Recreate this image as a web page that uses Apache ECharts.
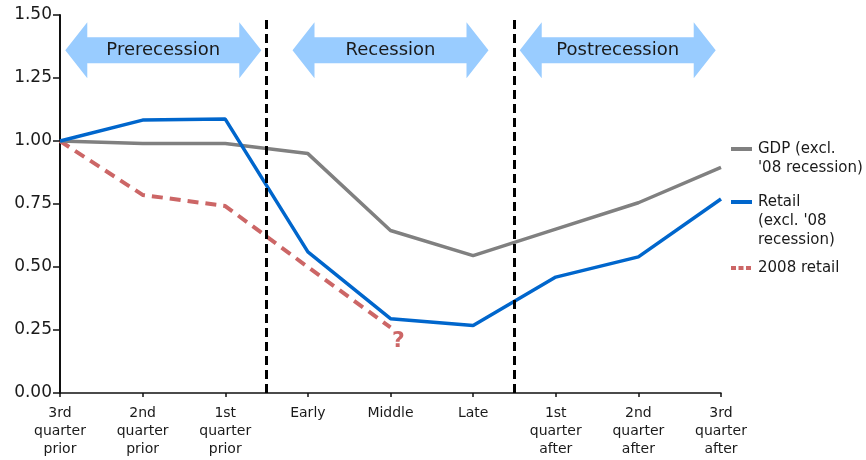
<!DOCTYPE html>
<html>
<head>
<meta charset="utf-8">
<script src="https://cdn.jsdelivr.net/npm/echarts@6/dist/echarts.min.js"></script>
<style>
  html, body { margin: 0; padding: 0; background: #fff; }
  #chart { width: 866px; height: 460px; }
</style>
</head>
<body>
<div id="chart"></div>
<script>
// category labels along the bottom
const xLabels = [
  '3rd\nquarter\nprior', '2nd\nquarter\nprior', '1st\nquarter\nprior',
  'Early', 'Middle', 'Late',
  '1st\nquarter\nafter', '2nd\nquarter\nafter', '3rd\nquarter\nafter'
]
const gdpData = [1.00, 0.99, 0.99, 0.95, 0.645, 0.545, 0.65, 0.755, 0.895]
const retailData = [1.00, 1.083, 1.087, 0.56, 0.295, 0.268, 0.46, 0.54, 0.77]
const retail2008Data = [1.00, 0.786, 0.742, 0.50, 0.26]
const yTicks = [0, 0.25, 0.5, 0.75, 1.0, 1.25, 1.5]
// phase boundaries (category index)
const phaseNames = ['Prerecession', 'Recession', 'Postrecession']
const phaseBounds = [0, 2.5, 5.5, 8]

const font = 'DejaVu Sans'
const textColor = '#1a1a1a'

const toPairs = arr => arr.map((v, i) => [i, v])

const chart = echarts.init(document.getElementById('chart'))
const option = {
  animation: false,
  textStyle: { fontFamily: font },
  grid: { left: 60, right: 145, top: 15, bottom: 67 },
  xAxis: {
    type: 'value',
    min: 0,
    max: xLabels.length - 1,
    interval: 1,
    splitLine: { show: false },
    axisLine: { show: true, onZero: false, lineStyle: { color: '#111', width: 1.5 } },
    axisTick: { show: true, length: 4, lineStyle: { color: '#111', width: 1.5 } },
    axisLabel: {
      margin: 11,
      fontSize: 14,
      lineHeight: 18,
      color: textColor,
      fontFamily: font,
      formatter: v => xLabels[v] || ''
    }
  },
  yAxis: {
    type: 'value',
    min: yTicks[0],
    max: yTicks[yTicks.length - 1],
    interval: 0.25,
    splitLine: { show: false },
    axisLine: { show: true, lineStyle: { color: '#111', width: 2 } },
    axisTick: { show: true, length: 7, lineStyle: { color: '#111', width: 1.5 } },
    axisLabel: {
      margin: 8,
      fontSize: 17,
      color: textColor,
      fontFamily: font,
      formatter: v => v.toFixed(2)
    }
  },
  series: [
    {
      name: 'GDP',
      type: 'line',
      showSymbol: false,
      lineStyle: { color: '#808080', width: 3.5 },
      data: toPairs(gdpData),
      z: 3
    },
    {
      name: 'Retail',
      type: 'line',
      showSymbol: false,
      lineStyle: { color: '#0066cc', width: 3.5 },
      data: toPairs(retailData),
      z: 4,
      markLine: {
        silent: true,
        symbol: 'none',
        label: { show: false },
        lineStyle: { color: '#000', width: 3, type: [9, 5] },
        data: [{ xAxis: phaseBounds[1] }, { xAxis: phaseBounds[2] }]
      }
    },
    {
      name: '2008 retail',
      type: 'line',
      showSymbol: false,
      lineStyle: { color: '#cc6666', width: 4, type: [11, 7] },
      data: toPairs(retail2008Data),
      z: 2
    }
  ]
}
chart.setOption(option)

// phase arrows, legend and the question mark, placed from the axis scales
function buildGraphics() {
  const g = []
  const cy = chart.convertToPixel({ gridIndex: 0 }, [0, 1.36])[1]
  const halfW = 98, headLen = 22, headH = 28, shaftH = 13
  phaseNames.forEach((name, i) => {
    const mid = (phaseBounds[i] + phaseBounds[i + 1]) / 2
    const cx = chart.convertToPixel({ gridIndex: 0 }, [mid, 0])[0]
    const l = cx - halfW, r = cx + halfW
    g.push({
      type: 'polygon',
      shape: {
        points: [
          [l, cy], [l + headLen, cy - headH], [l + headLen, cy - shaftH],
          [r - headLen, cy - shaftH], [r - headLen, cy - headH], [r, cy],
          [r - headLen, cy + headH], [r - headLen, cy + shaftH],
          [l + headLen, cy + shaftH], [l + headLen, cy + headH]
        ]
      },
      style: { fill: '#99ccff' },
      z: 1
    })
    g.push({
      type: 'text',
      x: cx,
      y: cy,
      style: {
        text: name, fontSize: 18, fontFamily: font, fill: textColor,
        align: 'center', verticalAlign: 'middle'
      },
      z: 2
    })
  })

  // legend
  const legendItems = [
    { text: "GDP (excl.\n'08 recession)", color: '#808080', dash: null, y: 149 },
    { text: "Retail\n(excl. '08\nrecession)", color: '#0066cc', dash: null, y: 202 },
    { text: '2008 retail', color: '#cc6666', dash: [5, 2.5], y: 268 }
  ]
  legendItems.forEach(it => {
    g.push({
      type: 'line',
      shape: { x1: 731, y1: it.y, x2: 752, y2: it.y },
      style: { stroke: it.color, lineWidth: 4, lineDash: it.dash },
      z: 2
    })
    g.push({
      type: 'text',
      x: 758,
      y: it.y - 9.5,
      style: {
        text: it.text, fontSize: 15, lineHeight: 19, fontFamily: font,
        fill: textColor, align: 'left', verticalAlign: 'top'
      },
      z: 2
    })
  })

  // question mark after the last 2008 point
  const last = retail2008Data.length - 1
  const p = chart.convertToPixel({ gridIndex: 0 }, [last, retail2008Data[last]])
  g.push({
    type: 'text',
    x: p[0] + 8,
    y: p[1] + 14,
    style: {
      text: '?', fontSize: 22, fontWeight: 'bold', fontFamily: font,
      fill: '#cc6666', align: 'center', verticalAlign: 'middle'
    },
    z: 5
  })
  return g
}
chart.setOption({ graphic: buildGraphics() })

window.onresize = function() {
  chart.resize()
  chart.setOption({ graphic: buildGraphics() }, { replaceMerge: ['graphic'] })
}
</script>
</body>
</html>
